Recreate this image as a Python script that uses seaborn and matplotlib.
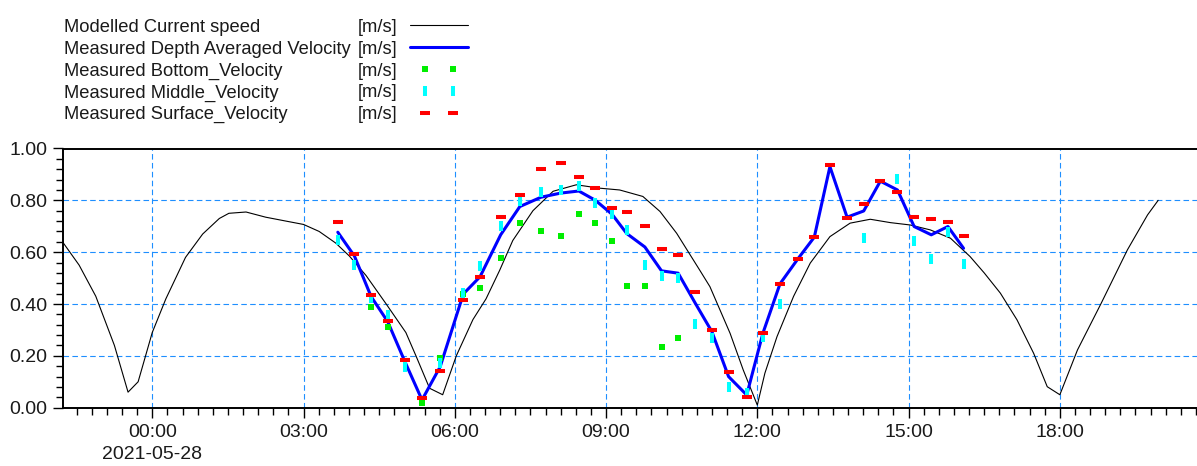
import numpy as np
import pandas as pd
import matplotlib
matplotlib.use('Agg')
import matplotlib.pyplot as plt
import matplotlib.dates as mdates
from matplotlib.lines import Line2D
from matplotlib.ticker import FixedLocator, MultipleLocator, FuncFormatter
import seaborn as sns

nan = np.nan
day0 = pd.Timestamp('2021-05-28 00:00')

# modelled current speed, hours relative to 2021-05-28 00:00
model_hours = [-1.78, -1.45, -1.12, -0.75, -0.48, -0.28, 0.0, 0.27, 0.66, 1.0, 1.33, 1.52,
               1.86, 2.25, 2.65, 3.0, 3.31, 3.64, 3.91, 4.24, 4.64, 5.03, 5.23, 5.5, 5.76,
               6.03, 6.36, 6.62, 6.89, 7.15, 7.55, 7.95, 8.41, 8.87, 9.27, 9.73, 10.07, 10.4,
               10.86, 11.06, 11.46, 11.72, 12.0, 12.15, 12.39, 12.72, 13.05, 13.44, 13.84,
               14.24, 14.64, 15.03, 15.43, 15.83, 16.22, 16.5, 16.82, 17.15, 17.48, 17.75,
               18.0, 18.35, 18.82, 19.34, 19.74, 19.95]
model_speed = [0.64, 0.55, 0.43, 0.24, 0.06, 0.10, 0.29, 0.42, 0.58, 0.67, 0.73, 0.75,
               0.755, 0.735, 0.72, 0.707, 0.68, 0.635, 0.585, 0.51, 0.40, 0.29, 0.20, 0.075, 0.05,
               0.20, 0.34, 0.42, 0.53, 0.645, 0.76, 0.835, 0.86, 0.847, 0.84, 0.815, 0.757, 0.673,
               0.53, 0.467, 0.287, 0.146, 0.01, 0.133, 0.274, 0.43, 0.558, 0.66, 0.712,
               0.727, 0.714, 0.705, 0.686, 0.654, 0.583, 0.52, 0.442, 0.339, 0.21, 0.081,
               0.05, 0.223, 0.403, 0.609, 0.744, 0.80]

# measurements
meas_hours = [3.68, 4.01, 4.34, 4.67, 5.01, 5.35, 5.71, 6.17, 6.50, 6.91, 7.29, 7.71, 8.10,
              8.46, 8.79, 9.12, 9.41, 9.77, 10.10, 10.43, 10.77, 11.10, 11.43, 11.79, 12.11,
              12.45, 12.80, 13.13, 13.44, 13.78, 14.11, 14.44, 14.78, 15.11, 15.45, 15.78, 16.09]
depth_avg = [0.677, 0.585, 0.429, 0.332, 0.178, 0.030, 0.158, 0.439, 0.505, 0.667, 0.776, 0.812,
             0.828, 0.836, 0.800, 0.746, 0.672, 0.620, 0.528, 0.519, 0.403, 0.293, 0.120, 0.049,
             0.287, 0.478, 0.573, 0.658, 0.930, 0.735, 0.759, 0.874, 0.840, 0.699, 0.667, 0.699, 0.615]
bottom = [nan, nan, 0.390, 0.310, nan, 0.017, 0.190, 0.440, 0.463, 0.579, 0.712, 0.680, 0.663,
          0.748, 0.712, 0.644, 0.470, 0.470, 0.236, 0.268, nan, nan, nan, nan, nan,
          nan, nan, nan, nan, nan, nan, nan, nan, nan, nan, nan, nan]
middle = [0.647, 0.551, 0.422, 0.358, 0.158, nan, 0.174, 0.442, 0.547, 0.702, 0.798, 0.832, 0.840,
          0.854, 0.789, 0.747, 0.686, 0.551, 0.509, 0.502, 0.322, 0.268, 0.079, 0.058, 0.274,
          0.400, nan, nan, nan, nan, 0.654, nan, 0.882, 0.645, 0.574, 0.676, 0.554]
surface = [0.716, 0.593, 0.436, 0.336, 0.184, 0.036, 0.142, 0.416, 0.505, 0.737, 0.821, 0.922,
           0.944, 0.890, 0.848, 0.770, 0.754, 0.702, 0.612, 0.590, 0.447, 0.299, 0.137, 0.040,
           0.290, 0.478, 0.573, 0.658, 0.937, 0.732, 0.785, 0.874, 0.833, 0.737, 0.727, 0.717, 0.663]

labels = ['Modelled Current speed', 'Measured Depth Averaged Velocity', 'Measured Bottom_Velocity',
          'Measured Middle_Velocity', 'Measured Surface_Velocity']
unit = '[m/s]'

sns.set_style('white')
plt.rcParams['font.family'] = ['Liberation Sans', 'DejaVu Sans']

W, H = 1197, 466
fig = plt.figure(figsize=(W / 100, H / 100), dpi=100)
ax = fig.add_axes([63 / W, 1 - 407.7 / H, (1197 - 63) / W, (407.7 - 148.5) / H])

mt = day0 + pd.to_timedelta(model_hours, unit='h')
ms = day0 + pd.to_timedelta(meas_hours, unit='h')
df = pd.DataFrame({'t': ms, 'depth': depth_avg, 'bottom': bottom, 'middle': middle, 'surface': surface})

# styles of each series
s_model = dict(color='black', linewidth=0.8)
s_depth = dict(color='#0000ff', linewidth=2.2)
s_bottom = dict(color='#00ee00', marker='s', markersize=5, markeredgewidth=0,
                markeredgecolor='#00ee00', linestyle='none')
s_middle = dict(color='#00ffff', marker='|', markersize=6.5, markeredgewidth=2.9,
                markeredgecolor='#00ffff', linestyle='none')
s_surface = dict(color='#ff0000', marker='_', markersize=6.8, markeredgewidth=2.9,
                 markeredgecolor='#ff0000', linestyle='none')

sns.lineplot(x=mt, y=model_speed, ax=ax, zorder=3, **s_model)
sns.lineplot(data=df, x='t', y='depth', ax=ax, zorder=4, **s_depth)
sns.lineplot(data=df.dropna(subset=['bottom']), x='t', y='bottom', ax=ax, zorder=5, **s_bottom)
sns.lineplot(data=df.dropna(subset=['middle']), x='t', y='middle', ax=ax, zorder=6, **s_middle)
sns.lineplot(data=df, x='t', y='surface', ax=ax, zorder=7, **s_surface)

ax.set_xlim(day0 + pd.Timedelta(hours=-1.77), day0 + pd.Timedelta(hours=20.72))
ax.set_ylim(0, 1)
ax.set_xlabel('')
ax.set_ylabel('')

ax.xaxis.set_major_locator(mdates.HourLocator(byhour=range(0, 24, 3)))
minor_t = pd.date_range('2021-05-27 21:00', '2021-05-28 21:00', freq='18min')
ax.xaxis.set_minor_locator(FixedLocator(mdates.date2num(minor_t)))

def fmt_time(x, pos):
    d = mdates.num2date(x)
    s = d.strftime('%H:%M')
    if d.hour == 0 and d.minute == 0:
        s += '\n' + d.strftime('%Y-%m-%d')
    return s

ax.xaxis.set_major_formatter(FuncFormatter(fmt_time))
ax.yaxis.set_major_locator(MultipleLocator(0.2))
ax.yaxis.set_minor_locator(MultipleLocator(0.04))
ax.yaxis.set_major_formatter(FuncFormatter(lambda v, p: '%.2f' % v))

ax.tick_params(which='both', direction='out', colors='black', labelcolor='#1a1a1a',
               labelsize=14, pad=4, width=1, bottom=True, left=True)
ax.tick_params(which='major', length=7)
ax.tick_params(which='minor', length=5)
ax.tick_params(axis='x', which='major', pad=5)
fig.canvas.draw()
for t in ax.get_xticklabels():
    t.set_linespacing(1.35)

ax.grid(True, which='major', color='#1e8fff', linewidth=0.8, linestyle=(0, (5, 3)))
ax.set_axisbelow(True)
for side in ['left', 'bottom', 'top']:
    ax.spines[side].set_color('black')
    ax.spines[side].set_linewidth(1.4)
ax.spines['right'].set_visible(False)

# legend block above the plot
def fx(px):
    return px / W

def fy(py):
    return 1 - py / H

styles = [s_model, s_depth, s_bottom, s_middle, s_surface]
for i, (lab, st) in enumerate(zip(labels, styles)):
    base = 31.7 + 21.9 * i
    mid = base - 6.7
    fig.text(fx(64), fy(base), lab, fontsize=13.2, color='#1a1a1a', va='baseline')
    fig.text(fx(357.7), fy(base), unit, fontsize=13.2, color='#1a1a1a', va='baseline')
    if st.get('linestyle') == 'none':
        fig.add_artist(Line2D([fx(425), fx(453)], [fy(mid), fy(mid)], transform=fig.transFigure, **st))
    else:
        fig.add_artist(Line2D([fx(410), fx(468)], [fy(mid), fy(mid)], transform=fig.transFigure, **st))

fig.savefig('out.png', dpi=100)
